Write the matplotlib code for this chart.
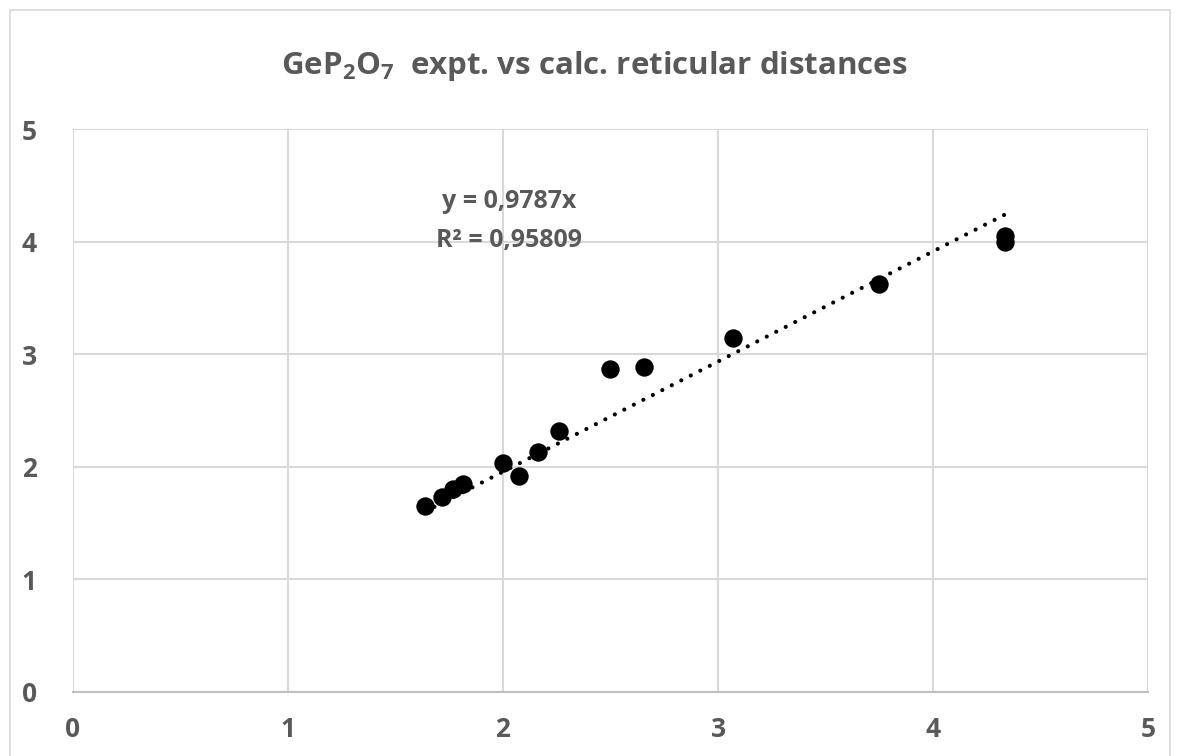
import numpy as np
import matplotlib.pyplot as plt
from matplotlib.patches import Rectangle

plt.rcParams['font.family'] = ['Open Sans', 'DejaVu Sans']
plt.rcParams['mathtext.fontset'] = 'custom'
plt.rcParams['mathtext.rm'] = 'Open Sans:bold'
plt.rcParams['mathtext.it'] = 'Open Sans:bold'
plt.rcParams['mathtext.bf'] = 'Open Sans:bold'
plt.rcParams['mathtext.default'] = 'rm'

# calculated vs experimental d-spacings
d_calc = [1.637, 1.714, 1.766, 1.816, 2.001, 2.074, 2.163, 2.262,
          2.498, 2.657, 3.068, 3.750, 4.335, 4.335]
d_expt = [1.653, 1.730, 1.804, 1.849, 2.033, 1.917, 2.130, 2.320,
          2.868, 2.889, 3.149, 3.627, 4.050, 4.000]
slope = 0.9787
r2 = "0,95809"

txt = '#595959'
wt = 'bold'

fig = plt.figure(figsize=(11.78, 7.56), dpi=100)
fig.patches.append(Rectangle((10/1178, -0.01), 1 - 18/1178, 1 - 10/756 + 0.01,
                             transform=fig.transFigure, fill=False,
                             edgecolor='#D9D9D9', linewidth=1.2))
ax = fig.add_axes([73/1178, 1 - 692/756, 1075/1178, (692 - 129.3)/756])

xt = np.array([min(d_calc), max(d_calc)])
ax.plot(xt, slope*xt, color='black', linewidth=3,
        linestyle=(0, (0.01, 2.55)), dash_capstyle='round', zorder=3)
ax.scatter(d_calc, d_expt, s=175, color='black', zorder=4, linewidths=0)

ax.set_xlim(0, 5)
ax.set_ylim(0, 5)
ax.set_xticks(range(6))
ax.set_yticks(range(6))
ax.grid(True, color='#D9D9D9', linewidth=1.5)
ax.set_axisbelow(True)
for s in ['top', 'right', 'left']:
    ax.spines[s].set_visible(False)
ax.spines['bottom'].set_color('#BFBFBF')
ax.spines['bottom'].set_linewidth(1.5)
ax.tick_params(length=0, labelsize=19, labelcolor=txt)
ax.tick_params(axis='x', pad=17)
ax.tick_params(axis='y', pad=26)
for lab in ax.get_xticklabels() + ax.get_yticklabels():
    lab.set_fontweight(wt)

ax.text(2.03, 4.36, "y = 0,9787x", ha='center', va='center',
        fontsize=18, fontweight=wt, color=txt)
ax.text(2.03, 4.01, "R² = " + r2, ha='center', va='center',
        fontsize=18, fontweight=wt, color=txt)

fig.text(594/1178, 1 - 66/756, "GeP$_2$O$_7$  expt. vs calc. reticular distances",
         ha='center', va='center', fontsize=22.5, fontweight=wt, color=txt)

fig.savefig('out.png', dpi=100)
